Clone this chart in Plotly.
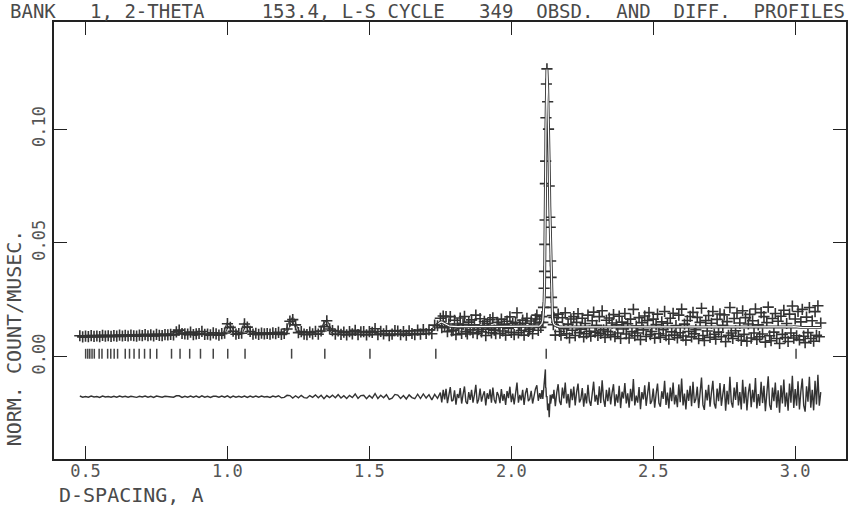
import numpy as np
import plotly.graph_objects as go

SCALE = 1e-4  # profile values below are in units of 1e-4 counts/usec

# ---- left segment: d = 0.48 .. 1.74, step 0.01 ----
calc_left = [
    88, 88, 88, 89, 89, 89, 89, 90, 90, 90,
    90, 90, 90, 91, 91, 91, 91, 92, 92, 92,
    92, 92, 93, 93, 93, 93, 93, 94, 94, 94,
    94, 94, 95, 97, 104, 112, 104, 97, 100, 104,
    98, 96, 104, 106, 99, 96, 98, 102, 97, 96,
    97, 105, 140, 132, 108, 100, 99, 104, 140, 132,
    107, 100, 99, 99, 100, 100, 100, 101, 101, 101,
    102, 102, 104, 115, 150, 168, 135, 110, 103, 102,
    102, 102, 102, 102, 103, 106, 140, 152, 125, 107,
    103, 103, 103, 103, 103, 103, 103, 103, 103, 103,
    103, 104, 104, 112, 108, 104, 104, 104, 104, 104,
    104, 104, 104, 104, 104, 104, 105, 105, 105, 105,
    106, 106, 107, 108, 114, 128, 142,
]
diff_left = [
    3, -2, 1, -2, 3, -1, 1, -3, 3, -1,
    1, -2, 2, -2, 3, -1, 2, -2, 2, -1,
    -3, 2, -1, 3, -2, 2, -3, 3, -1, -2,
    2, 1, 2, -2, 4, 4, -3, 2, -2, 3,
    -2, 3, -3, 4, -2, 2, -3, 2, 2, -2,
    3, -2, 4, -4, 3, -2, 2, -2, 3, -3,
    3, -2, 3, -2, 3, -1, 1, -3, 3, -1,
    4, -5, -3, 6, 5, -6, 4, -5, 6, -4,
    -6, 5, -3, 8, -5, 6, -9, 5, -4, 7,
    -5, 9, -6, 4, -8, 6, -4, 12, -7, 5,
    6, -9, 5, -6, 14, -8, 6, -5, 9, -12,
    -6, 10, 7, -8, 5, -10, 8, -4, -9, 11,
    -8, 12, -6, 9, -14, 10, -7,
]

# ---- middle segment: d = 1.750 .. 2.095, step 0.005 ----
calc_mid = [
    150, 152, 148, 144, 140, 137, 135, 133, 132, 131,
    131, 131, 131, 131, 131, 131, 131, 131, 131, 131,
    131, 131, 131, 131, 131, 130, 130, 130, 130, 130,
    130, 130, 130, 130, 130, 130, 130, 130, 130, 130,
    130, 130, 130, 130, 130, 130, 130, 130, 130, 130,
    130, 130, 130, 130, 130, 130, 130, 130, 130, 130,
    130, 130, 130, 130, 130, 130, 131, 131, 132, 133,
]
diff_mid = [
    18, -25, 30, -12, 35, -28, 8, 42, -20, -15,
    28, -35, 12, -6, 38, -30, 10, 45, -22, -32,
    20, -14, 30, -26, 8, 52, -30, -12, 36, -22,
    6, 24, -38, 15, -10, 32, -26, 40, -14, -30,
    20, 6, -28, 34, -18, 12, -36, 25, -6, 44,
    -24, 14, -34, 20, 62, -26, 8, -16, 30, -36,
    16, 38, -20, -10, 26, -30, 12, 34, 50, -18,
]

# ---- main (110) peak region, explicit d ----
d_peak = [2.100, 2.104, 2.108, 2.111, 2.1135, 2.1155, 2.117, 2.118, 2.119, 2.120,
          2.121, 2.122, 2.1235, 2.1255, 2.128, 2.131, 2.1335, 2.1355, 2.137, 2.1385,
          2.140, 2.1415, 2.143, 2.145, 2.148]
calc_peak = [134, 138, 146, 160, 190, 240, 310, 390, 500, 640,
             820, 1010, 1200, 1262, 1180, 1030, 840, 660, 560, 450,
             350, 270, 210, 170, 148]
diff_peak = [16, -10, 29, -10, 26, 60, 64, 103, 100, 120,
             39, 40, -2, 3, -60, -30, -90, -48, 8, -30,
             -2, -10, 6, 10, -8]

# ---- right segment: d = 2.150 .. 3.090, step 0.005 ----
calc_right = [
    142, 136, 133, 131, 130, 130, 130, 130, 130, 130,
    130, 130, 130, 130, 130, 130, 130, 130, 130, 130,
    130, 130, 130, 130, 130, 129, 129, 129, 129, 129,
    129, 129, 129, 129, 129, 129, 129, 129, 129, 129,
    129, 129, 129, 129, 129, 129, 129, 129, 129, 129,
    129, 129, 129, 129, 129, 129, 129, 129, 129, 129,
    129, 129, 129, 129, 128, 128, 128, 128, 128, 128,
    128, 128, 128, 128, 128, 128, 128, 128, 128, 128,
    128, 128, 128, 128, 128, 128, 128, 128, 128, 128,
    128, 128, 128, 128, 128, 128, 128, 128, 128, 128,
    128, 128, 128, 128, 128, 128, 128, 128, 128, 128,
    128, 128, 128, 128, 128, 127, 127, 127, 127, 127,
    127, 127, 127, 127, 127, 127, 127, 127, 127, 127,
    127, 127, 127, 127, 127, 127, 127, 127, 127, 127,
    127, 127, 127, 127, 127, 127, 127, 127, 127, 127,
    127, 127, 127, 127, 127, 127, 127, 127, 127, 127,
    127, 127, 127, 127, 127, 128, 128, 129, 130, 131,
    131, 131, 130, 129, 128, 127, 127, 127, 127, 127,
    127, 127, 127, 127, 127, 127, 127, 127, 127,
]
diff_right = [
    30, -42, 18, 55, -20, -36, 40, -8, 62, -30,
    12, -48, 35, -15, 45, -38, 20, 58, -25, -10,
    38, -44, 15, -30, 52, -18, -40, 28, 66, -22,
    8, -36, 46, -28, 72, -12, -45, 30, -20, 40,
    -34, 18, 55, -42, 10, -26, 48, -50, 22, -8,
    60, -30, 15, -48, 35, -20, 78, -38, 5, -26,
    42, -55, 20, -12, 50, -40, 30, 65, -32, -18,
    36, -48, 12, 58, -28, -44, 24, -10, 70, -36,
    18, -52, 40, -20, 62, -34, 8, -46, 54, -24,
    80, -38, 14, -56, 30, -18, 48, -42, 66, -28,
    -10, 44, -50, 22, 84, -36, -58, 30, -16, 52,
    -44, 18, 70, -30, -52, 36, -20, 60, -40, 10,
    56, -62, 26, -34, 88, -24, -48, 40, -14, 64,
    -38, 20, -56, 74, -30, 44, -60, 16, 58, -46,
    30, -24, 82, -52, 12, -40, 66, -28, 48, -64,
    22, 90, -36, -58, 40, -20, 62, -48, 28, -70,
    50, -30, 76, -44, 18, -62, 58, -26, 92, -50,
    34, -40, 68, -56, 24, 80, -38, -66, 46, -22,
    88, -48, 30, -60, 70, -34, 96, -40, 20,
]

# reflection positions (d, A)
refl_d = [3.003, 2.123, 1.734, 1.502, 1.343, 1.226, 1.062, 1.001, 0.950, 0.905,
          0.867, 0.833, 0.803, 0.751, 0.728, 0.708, 0.689, 0.671, 0.655, 0.640,
          0.613, 0.601, 0.589, 0.578, 0.558, 0.548, 0.531, 0.523, 0.515, 0.508, 0.5005]
refl_level = 0.0012
diff_offset = -0.0177

x_tick_vals = [0.5, 1.0, 1.5, 2.0, 2.5, 3.0]
x_tick_text = ["0.5", "1.0", "1.5", "2.0", "2.5", "3.0"]
y_tick_vals = [0.0, 0.05, 0.10]
y_tick_text = ["0.00", "0.05", "0.10"]

title_text = "BANK   1, 2-THETA     153.4, L-S CYCLE   349  OBSD.  AND  DIFF.  PROFILES"
x_title = "D-SPACING, A"
y_title = "NORM. COUNT/MUSEC."

assert len(calc_left) == len(diff_left)
assert len(calc_mid) == len(diff_mid)
assert len(d_peak) == len(calc_peak) == len(diff_peak)
assert len(calc_right) == len(diff_right)

d_left = np.round(0.48 + 0.01 * np.arange(len(calc_left)), 4)
d_mid = np.round(1.75 + 0.005 * np.arange(len(calc_mid)), 4)
d_right = np.round(2.15 + 0.005 * np.arange(len(calc_right)), 4)

d_all = np.concatenate([d_left, d_mid, np.array(d_peak), d_right])
calc_all = np.concatenate([calc_left, calc_mid, calc_peak, calc_right]) * SCALE
diff_all = np.concatenate([diff_left, diff_mid, diff_peak, diff_right]) * SCALE
obs_all = calc_all + diff_all

n_left = len(d_left)
INK = "#333333"
FONT = "DejaVu Sans Mono"
TXT = "#4a4a4a"

fig = go.Figure()
# observed points of high-d part (drawn beneath the calculated curve)
fig.add_trace(go.Scatter(
    x=d_all[n_left:], y=obs_all[n_left:], mode="markers",
    marker=dict(symbol="cross-thin", size=8, line=dict(width=1.6, color=INK)),
    hoverinfo="skip", showlegend=False))
# calculated profile
fig.add_trace(go.Scatter(x=d_all, y=calc_all, mode="lines",
                         line=dict(color=INK, width=3), showlegend=False, hoverinfo="skip"))
fig.add_trace(go.Scatter(x=d_all, y=calc_all, mode="lines",
                         line=dict(color="white", width=1.2), showlegend=False, hoverinfo="skip"))
# observed points of low-d part
fig.add_trace(go.Scatter(
    x=d_all[:n_left], y=obs_all[:n_left], mode="markers",
    marker=dict(symbol="cross-thin", size=8, line=dict(width=1.6, color=INK)),
    hoverinfo="skip", showlegend=False))
# difference curve
fig.add_trace(go.Scatter(x=d_all, y=diff_all + diff_offset, mode="lines",
                         line=dict(color=INK, width=1.4), showlegend=False, hoverinfo="skip"))
# reflection markers
fig.add_trace(go.Scatter(x=refl_d, y=[refl_level] * len(refl_d), mode="markers",
                         marker=dict(symbol="line-ns", size=7, line=dict(width=1.5, color="#444444")),
                         showlegend=False, hoverinfo="skip"))

axis_common = dict(showline=True, mirror="ticks", linecolor="#222222", linewidth=1.5,
                   ticks="inside", ticklen=13, tickwidth=1.2, tickcolor="#222222",
                   showgrid=False, zeroline=False,
                   tickfont=dict(family=FONT, size=17, color="#555555"))

fig.update_layout(
    width=851, height=508, autosize=False,
    margin=dict(l=54, r=3, t=22, b=49),
    paper_bgcolor="white", plot_bgcolor="white",
    xaxis=dict(range=[0.389, 3.179], tickmode="array", tickvals=x_tick_vals,
               ticktext=x_tick_text, ticklabelstandoff=-4, **axis_common),
    yaxis=dict(range=[-0.0451, 0.1471], tickmode="array", tickvals=y_tick_vals,
               ticktext=y_tick_text, tickangle=-90, **axis_common),
    annotations=[
        dict(text=title_text, xref="paper", yref="paper", x=-0.0579, y=1.026,
             xanchor="left", yanchor="middle", showarrow=False,
             font=dict(family=FONT, size=19, color=TXT)),
        dict(text=x_title, xref="paper", yref="paper", x=0.004, y=-0.082,
             xanchor="left", yanchor="middle", showarrow=False,
             font=dict(family=FONT, size=20, color=TXT)),
        dict(text=y_title, xref="paper", yref="paper", x=-0.05, y=0.277,
             xanchor="center", yanchor="middle", showarrow=False, textangle=-90,
             font=dict(family=FONT, size=20, color=TXT)),
    ],
)

fig.write_html("out.html")
